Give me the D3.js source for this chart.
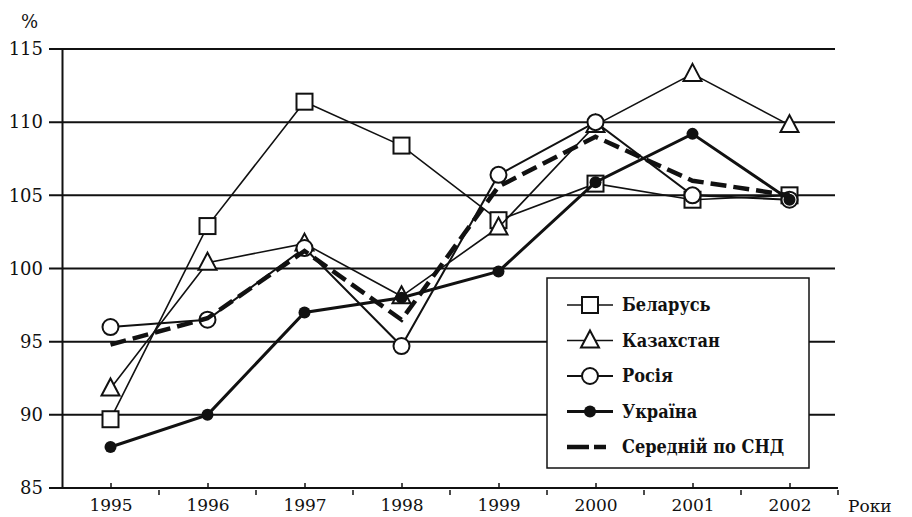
<!DOCTYPE html>
<html><head><meta charset="utf-8">
<script src="https://cdn.jsdelivr.net/npm/d3@7"></script>
<style>
body{margin:0;background:#fff;}
svg{display:block;}
svg text{font-family:"DejaVu Serif",serif !important;fill:#111;}
.leg text{font-stretch:condensed;font-weight:bold;}
</style></head>
<body>
<svg id="c" width="912" height="517"></svg>
<script>
const years = ["1995","1996","1997","1998","1999","2000","2001","2002"];
const belarus    = [89.7, 102.9, 111.4, 108.4, 103.3, 105.8, 104.7, 105.0];
const kazakhstan = [91.8, 100.4, 101.7, 98.1, 102.8, 109.8, 113.3, 109.8];
const russia     = [96.0, 96.5, 101.4, 94.7, 106.4, 110.0, 105.0, 104.7];
const ukraine    = [87.8, 90.0, 97.0, 98.0, 99.8, 105.9, 109.2, 104.7];
const cisAverage = [94.8, 96.6, 101.2, 96.5, 105.6, 109.0, 106.0, 105.0];
const yTicks = [85, 90, 95, 100, 105, 110, 115];
const seriesNames = ["Беларусь","Казахстан","Росія","Україна","Середній по СНД"];

const FONT = "'DejaVu Serif',serif";
const svg = d3.select("#c");
const x = d3.scalePoint().domain(years).range([62, 838]).padding(0.5);
const y = d3.scaleLinear().domain([85, 115]).range([488, 49]);
const step = x.step();

// gridlines
svg.append("g").selectAll("line").data(yTicks.filter(d=>d>85)).join("line")
  .attr("x1", 49).attr("x2", 835).attr("y1", d=>y(d)).attr("y2", d=>y(d))
  .attr("stroke", "#111").attr("stroke-width", 2);

// y axis
const yAxis = d3.axisLeft(y).tickValues(yTicks).tickSize(0).tickPadding(19).tickFormat(d3.format("d"));
const gy = svg.append("g").attr("transform","translate(62,0)").call(yAxis);
gy.attr("font-family", FONT).attr("font-size", 18);
gy.select(".domain").attr("stroke","#111").attr("stroke-width",2);
gy.selectAll("text").attr("fill","#111");
svg.append("line").attr("x1",49).attr("x2",62).attr("y1",y(85)).attr("y2",y(85)).attr("stroke","#111").attr("stroke-width",2);

// x axis
const xAxis = d3.axisBottom(x).tickSize(-5).tickPadding(11);
const gx = svg.append("g").attr("transform",`translate(0,${y(85)})`).call(xAxis);
gx.attr("font-family", FONT).attr("font-size", 17);
gx.select(".domain").attr("stroke","#111").attr("stroke-width",2).attr("d","M62,0H838");
gx.selectAll("line").attr("stroke","#111").attr("stroke-width",1.5);
gx.selectAll("text").attr("fill","#111");
// boundary ticks
const bounds = years.map(d => x(d) + step/2);
gx.append("g").selectAll("line").data(bounds).join("line")
  .attr("x1", d=>d).attr("x2", d=>d).attr("y1", 2).attr("y2", 7)
  .attr("stroke","#111").attr("stroke-width",1.5);

svg.append("text").attr("x",21).attr("y",28).attr("font-size",18).attr("font-family",FONT).text("%");
svg.append("text").attr("x",848).attr("y",512).attr("font-size",17).attr("font-family",FONT).text("Роки");

const line = d3.line().x((d,i)=>x(years[i])).y(d=>y(d));

function drawSeries(vals, opts){
  svg.append("path").attr("d", line(vals)).attr("fill","none")
    .attr("stroke","#111").attr("stroke-width",opts.sw)
    .attr("stroke-dasharray", opts.dash || null);
}
function drawMarkers(vals, type){
  const g = svg.append("g");
  vals.forEach((v,i)=> marker(g, x(years[i]), y(v), type));
}
function marker(g, cx, cy, type){
  if(type==="square"){
    g.append("rect").attr("x",cx-8).attr("y",cy-8).attr("width",16).attr("height",16)
      .attr("fill","#fff").attr("stroke","#111").attr("stroke-width",2);
  } else if(type==="triangle"){
    g.append("path").attr("d",`M${cx},${cy-10}L${cx+9},${cy+7}L${cx-9},${cy+7}Z`)
      .attr("fill","#fff").attr("stroke","#111").attr("stroke-width",2);
  } else if(type==="circle"){
    g.append("circle").attr("cx",cx).attr("cy",cy).attr("r",8)
      .attr("fill","#fff").attr("stroke","#111").attr("stroke-width",2);
  } else if(type==="dot"){
    g.append("circle").attr("cx",cx).attr("cy",cy).attr("r",6).attr("fill","#111");
  }
}

drawSeries(belarus,{sw:1.6}); drawMarkers(belarus,"square");
drawSeries(kazakhstan,{sw:1.6}); drawMarkers(kazakhstan,"triangle");
drawSeries(russia,{sw:2}); drawMarkers(russia,"circle");
drawSeries(ukraine,{sw:3}); drawMarkers(ukraine,"dot");
drawSeries(cisAverage,{sw:4.5, dash:"16,7"});

// legend
const lg = svg.append("g").attr("class","leg").attr("font-family", FONT);
lg.append("rect").attr("x",547).attr("y",278).attr("width",262).attr("height",190)
  .attr("fill","#fff").attr("stroke","#111").attr("stroke-width",1.5);
const types = ["square","triangle","circle","dot","dash"];
const sws = [1.6,1.6,2,3,4.5];
seriesNames.forEach((n,i)=>{
  const cy = 305 + i*35.5;
  if(types[i]==="dash"){
    lg.append("line").attr("x1",567).attr("x2",614).attr("y1",cy).attr("y2",cy)
      .attr("stroke","#111").attr("stroke-width",4.5).attr("stroke-dasharray","22,5,12");
  } else {
    lg.append("line").attr("x1",567).attr("x2",613).attr("y1",cy).attr("y2",cy)
      .attr("stroke","#111").attr("stroke-width",sws[i]);
    marker(lg, 590, cy, types[i]);
  }
  lg.append("text").attr("x",622).attr("y",cy+6).attr("font-size",18).text(n);
});
</script>
</body></html>
